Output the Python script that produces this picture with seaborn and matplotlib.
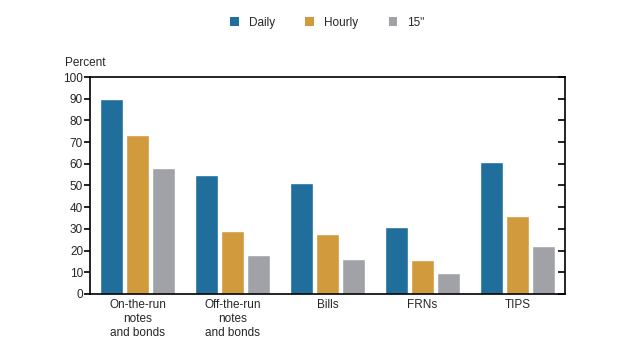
import matplotlib
matplotlib.use("Agg")
import matplotlib.pyplot as plt
import seaborn as sns
import pandas as pd
from matplotlib.patches import Patch

categories = ["On-the-run\nnotes\nand bonds", "Off-the-run\nnotes\nand bonds", "Bills", "FRNs", "TIPS"]
series_names = ["Daily", "Hourly", "15\""]
daily = [90, 55, 51, 31, 61]
hourly = [73.5, 29, 27.5, 15.5, 36]
fifteen = [58, 18, 16, 9.5, 22]
yticks = [0, 10, 20, 30, 40, 50, 60, 70, 80, 90, 100]
colors = ["#1f6e9c", "#d19a3c", "#a0a2a8"]

rows = []
for name, vals in zip(series_names, [daily, hourly, fifteen]):
    for c, v in zip(categories, vals):
        rows.append({"cat": c, "series": name, "value": v})
df = pd.DataFrame(rows)

sns.set_style("white")
plt.rcParams["font.family"] = ["Liberation Sans", "DejaVu Sans"]

fig = plt.figure(figsize=(6.21, 3.47), dpi=100)
ax = fig.add_axes([0.145, 0.153, 0.765, 0.625])

sns.barplot(data=df, x="cat", y="value", hue="series", order=categories,
            hue_order=series_names, palette=colors, width=0.82, gap=0.13,
            saturation=1, ax=ax, legend=False)

ax.set_xlim(-0.5, 4.5)
ax.set_ylim(0, 100)
ax.set_yticks(yticks)
ax.set_yticklabels([str(t) for t in yticks], fontsize=8.5)
ax.tick_params(axis="y", direction="out", length=4, width=1.2, left=True, right=False,
               labelleft=True, pad=1, color="black")
ax.tick_params(axis="x", length=0, labelsize=8.5, pad=4)
ax.set_xlabel("")
ax.set_ylabel("")
for s in ax.spines.values():
    s.set_visible(True)
    s.set_color("black")
    s.set_linewidth(1.2)

ax2 = ax.twinx()
ax2.set_ylim(0, 100)
ax2.set_yticks(yticks)
ax2.tick_params(axis="y", direction="in", length=5, width=1.2, right=True, labelright=False, color="black")
for s in ax2.spines.values():
    s.set_visible(False)

fig.text(0.105, 0.80, "Percent", fontsize=8.5, ha="left", va="bottom")

h = [Patch(facecolor=c, edgecolor="none") for c in colors]
fig.legend(h, series_names, loc="center", bbox_to_anchor=(0.527, 0.935), ncol=3,
           frameon=False, fontsize=8.5, handlelength=0.75, handleheight=0.75,
           handletextpad=0.8, columnspacing=2.6)

fig.savefig("out.png", dpi=100)
